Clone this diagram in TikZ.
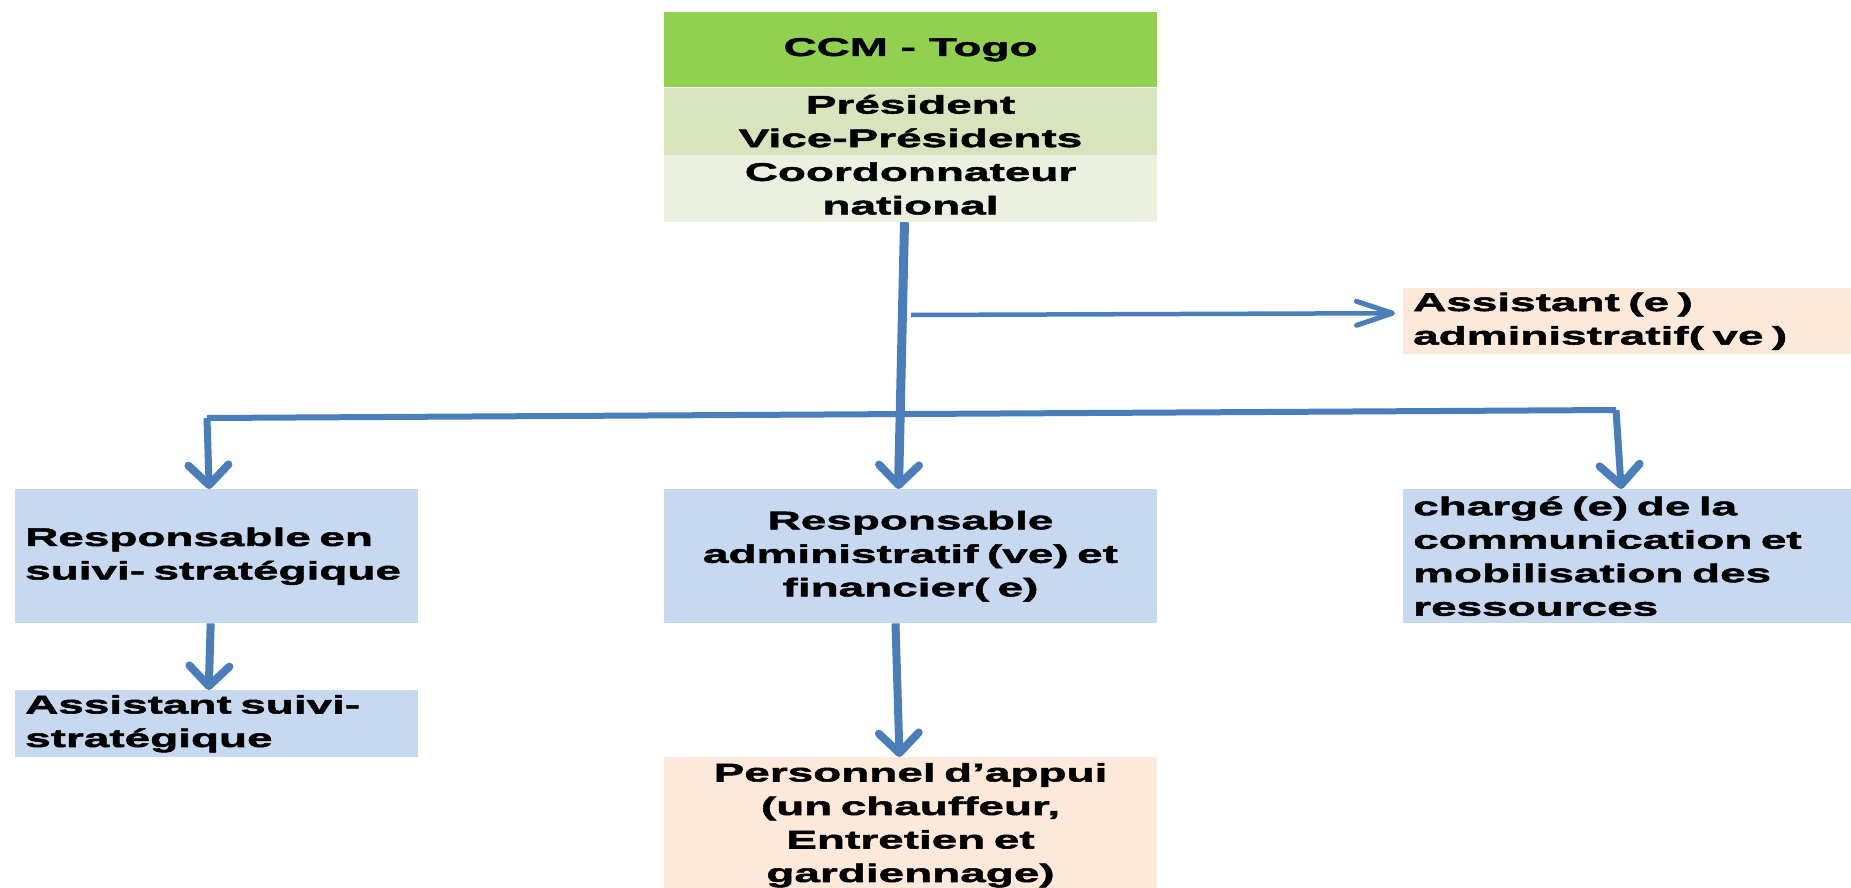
\documentclass[tikz,border=0pt]{standalone}
\usepackage{fontspec}
\newfontfamily\boxfont{Liberation Sans}[FakeStretch=1.8,FakeBold=2]
\usetikzlibrary{arrows.meta}

\definecolor{ccmgreen}{HTML}{92D050}
\definecolor{presgreen}{HTML}{D7E4BD}
\definecolor{coordgreen}{HTML}{EBF1DE}
\definecolor{boxblue}{HTML}{C6D9F1}
\definecolor{boxpeach}{HTML}{FDE9D9}
\definecolor{linkblue}{HTML}{4A7EBB}

\begin{document}
\begin{tikzpicture}[x=1pt,y=-1pt,
    box/.style={inner xsep=10pt,inner ysep=0pt,font=\boxfont\bfseries\fontsize{25.5}{33.5}\selectfont},
    bigarrow/.style={draw=linkblue,line width=8pt,-{Straight Barb[length=20pt,width=40pt,line width=8pt,round]}},
    thinarrow/.style={draw=linkblue,line width=4.5pt,-{Straight Barb[length=36pt,width=24pt,line width=5pt,round]}}]
    \useasboundingbox (0,0) rectangle (1851,888);
    % top block
    \node (ccm) [box,fill=ccmgreen,anchor=north,minimum width=493,minimum height=75,align=center] at (910.5,12) {CCM - Togo};
    \node (pres) [box,fill=presgreen,anchor=north,minimum width=493,minimum height=67,align=center] at (ccm.south) {Président\\Vice-Présidents};
    \node (coord) [box,fill=coordgreen,anchor=north,minimum width=493,minimum height=67,align=center] at (pres.south) {Coordonnateur\\national};
    % second level
    \node (aa) [box,fill=boxpeach,anchor=north west,text width=428,minimum height=66,align=left] at (1403,288) {Assistant (e )\\administratif( ve )};
    \node (rss) [box,fill=boxblue,anchor=north west,text width=383,minimum height=134,align=left] at (15,489) {Responsable en\\suivi- stratégique};
    \node (raf) [box,fill=boxblue,anchor=north,text width=473,minimum height=134,align=center] at (910.5,489) {Responsable\\administratif (ve) et\\financier( e)};
    \node (crm) [box,fill=boxblue,anchor=north west,text width=428,minimum height=134,align=left] at (1403,489) {chargé (e) de la\\communication et\\mobilisation des\\ressources};
    % third level
    \node (ass) [box,fill=boxblue,anchor=north west,text width=383,minimum height=67,align=left] at (15,690) {Assistant suivi-\\stratégique};
    \node (pers) [box,fill=boxpeach,anchor=north,text width=473,minimum height=136,align=center] at (910.5,757) {Personnel d’appui\\(un chauffeur,\\Entretien et\\gardiennage)};
    % connectors
    \coordinate (ta) at (911,315);
    \coordinate (barL) at (207,418);
    \coordinate (barR) at (1616,410);
    \draw [bigarrow,line width=9pt] ([xshift=-6pt]coord.south) to ([xshift=-12pt]raf.north);
    \draw [thinarrow] (ta) to ([xshift=-8pt,yshift=8pt]aa.west);
    \draw [draw=linkblue,line width=6pt] (barL) to (barR);
    \draw [bigarrow,line width=7pt] (barL) to ([xshift=-7.5pt]rss.north);
    \draw [bigarrow,line width=7pt] (barR) to ([xshift=-6pt]crm.north);
    \draw [bigarrow] ([xshift=-6pt]rss.south) to ([xshift=-8pt]ass.north);
    \draw [bigarrow] ([xshift=-15pt]raf.south) to ([xshift=-11pt]pers.north);
\end{tikzpicture}
\end{document}
